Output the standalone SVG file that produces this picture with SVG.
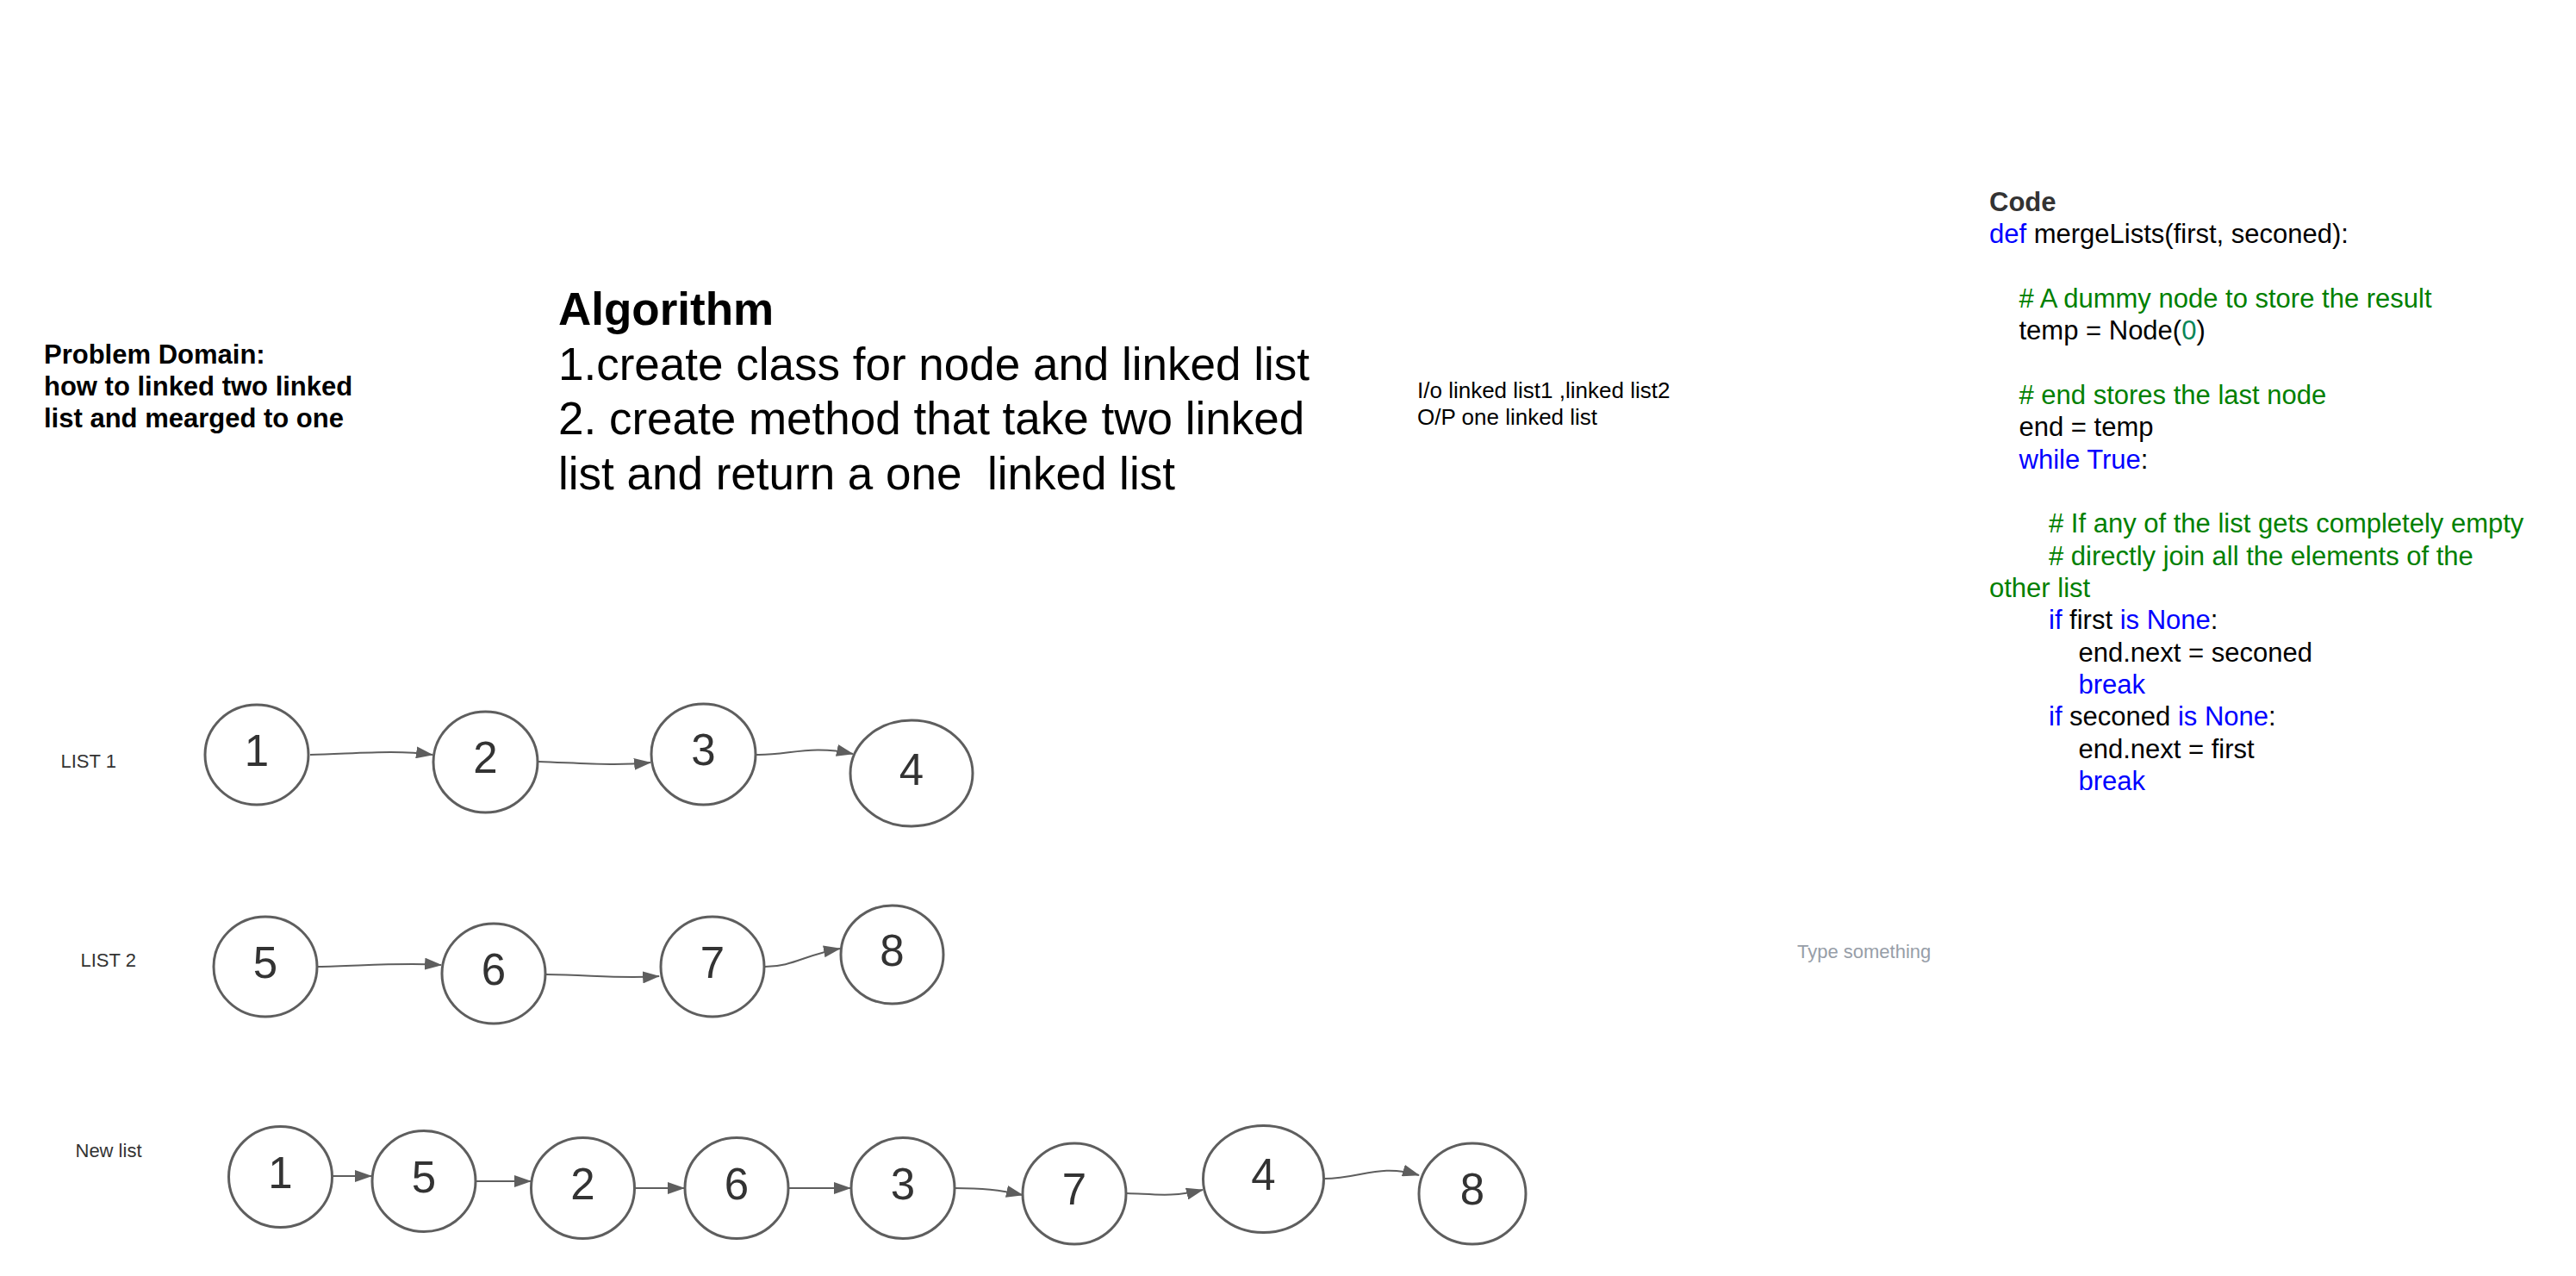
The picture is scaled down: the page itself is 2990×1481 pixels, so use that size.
<svg xmlns="http://www.w3.org/2000/svg" width="2990" height="1481" viewBox="0 0 2990 1481">
<style>
text{font-family:"Liberation Sans",Arial,sans-serif;}
.node ellipse{fill:#fff;stroke:#5e5e5e;stroke-width:3;}
.node text{font-size:51px;fill:#333;text-anchor:middle;}
.edge{fill:none;stroke:#5e5e5e;stroke-width:2;marker-end:url(#arr);}
.lbl{font-size:22px;fill:#333;}
.code{font-size:31px;fill:#000;}
.kw{fill:#0000ff;}
.cm{fill:#008000;}
.num{fill:#098658;}
</style>
<defs>
<marker id="arr" viewBox="0 0 20 14" refX="19" refY="7" markerWidth="20" markerHeight="14" orient="auto" markerUnits="userSpaceOnUse"><path d="M0,0 L20,7 L0,14 z" fill="#5e5e5e"/></marker>
</defs>
<rect width="2990" height="1481" fill="#fff"/>

<g id="problem-domain">
<text x="51" y="422" font-size="31" font-weight="bold">Problem Domain:</text>
<text x="51" y="459" font-size="31" font-weight="bold">how to linked two linked</text>
<text x="51" y="496" font-size="31" font-weight="bold">list and mearged to one</text>
</g>

<g id="algorithm">
<text x="648" y="377" font-size="53" font-weight="bold">Algorithm</text>
<text x="648" y="440.5" font-size="53">1.create class for node and linked list</text>
<text x="648" y="504" font-size="53">2. create method that take two linked</text>
<text x="648" y="567.5" font-size="53" xml:space="preserve">list and return a one  linked list</text>
</g>

<g id="io">
<text x="1645" y="462" font-size="26">I/o linked list1 ,linked list2</text>
<text x="1645" y="493" font-size="26">O/P one linked list</text>
</g>

<g id="code" class="code">
<text x="2309" y="245" font-weight="bold" fill="#333">Code</text>
<text x="2309" y="282"><tspan class="kw">def</tspan> mergeLists(first, seconed):</text>
<text x="2343.5" y="356.7" class="cm"># A dummy node to store the result</text>
<text x="2343.5" y="394">temp = Node(<tspan class="num">0</tspan>)</text>
<text x="2343.5" y="468.7" class="cm"># end stores the last node</text>
<text x="2343.5" y="506">end = temp</text>
<text x="2343.5" y="543.5"><tspan class="kw">while True</tspan>:</text>
<text x="2378" y="618.2" class="cm"># If any of the list gets completely empty</text>
<text x="2378" y="655.5" class="cm"># directly join all the elements of the</text>
<text x="2309" y="692.9" class="cm">other list</text>
<text x="2378" y="730.2"><tspan class="kw">if</tspan> first <tspan class="kw">is None</tspan>:</text>
<text x="2412.5" y="767.6">end.next = seconed</text>
<text x="2412.5" y="804.9" class="kw">break</text>
<text x="2378" y="842.3"><tspan class="kw">if</tspan> seconed <tspan class="kw">is None</tspan>:</text>
<text x="2412.5" y="879.6">end.next = first</text>
<text x="2412.5" y="917" class="kw">break</text>
</g>

<g id="type-something">
<text x="2086" y="1112" font-size="22" fill="#979ea8">Type something</text>
</g>

<g id="labels">
<text id="label-list1" class="lbl" x="70.5" y="891">LIST 1</text>
<text id="label-list2" class="lbl" x="93.5" y="1121.5">LIST 2</text>
<text id="label-newlist" class="lbl" x="87.5" y="1343">New list</text>
</g>

<g id="connectors">
<path class="edge" d="M360,876 C410,875 460,870 502,876"/>
<path class="edge" d="M625,884 C680,886 715,889 755,885"/>
<path class="edge" d="M878,876 C915,877 940,864 990,875"/>
<path class="edge" d="M369,1122 C420,1121 470,1117 512,1120"/>
<path class="edge" d="M634,1131 C690,1132 725,1136 765,1133"/>
<path class="edge" d="M888,1122 C920,1122 935,1108 975,1101"/>
<path class="edge" d="M386,1365 L431,1365"/>
<path class="edge" d="M553,1371 L616,1371"/>
<path class="edge" d="M737,1379 L794,1379"/>
<path class="edge" d="M915,1379 L987,1379"/>
<path class="edge" d="M1108,1379 C1140,1379 1160,1381 1187,1387"/>
<path class="edge" d="M1308,1385 C1340,1386 1360,1390 1396,1381"/>
<path class="edge" d="M1537,1368 C1580,1368 1600,1350 1647,1364"/>
</g>

<g id="l1-n1" class="node"><ellipse cx="298" cy="876" rx="60" ry="58"/><text x="298" y="888.5">1</text></g>
<g id="l1-n2" class="node"><ellipse cx="563.5" cy="884.5" rx="60.5" ry="58.5"/><text x="563.5" y="897">2</text></g>
<g id="l1-n3" class="node"><ellipse cx="816.5" cy="875.5" rx="60.5" ry="58.5"/><text x="816.5" y="888">3</text></g>
<g id="l1-n4" class="node"><ellipse cx="1058" cy="897.5" rx="71" ry="61.5"/><text x="1058" y="910.5">4</text></g>

<g id="l2-n5" class="node"><ellipse cx="308" cy="1122" rx="60" ry="58"/><text x="308" y="1134.5">5</text></g>
<g id="l2-n6" class="node"><ellipse cx="573" cy="1130" rx="60" ry="58"/><text x="573" y="1142.5">6</text></g>
<g id="l2-n7" class="node"><ellipse cx="827" cy="1122" rx="60" ry="58"/><text x="827" y="1134.5">7</text></g>
<g id="l2-n8" class="node"><ellipse cx="1035.5" cy="1108" rx="59.5" ry="57"/><text x="1035.5" y="1120.5">8</text></g>

<g id="nl-n1" class="node"><ellipse cx="325.5" cy="1366" rx="60" ry="58.5"/><text x="325.5" y="1378.5">1</text></g>
<g id="nl-n5" class="node"><ellipse cx="492" cy="1371" rx="60" ry="58.5"/><text x="492" y="1383.5">5</text></g>
<g id="nl-n2" class="node"><ellipse cx="676.5" cy="1379" rx="60" ry="58.5"/><text x="676.5" y="1391.5">2</text></g>
<g id="nl-n6" class="node"><ellipse cx="855" cy="1379" rx="60" ry="58.5"/><text x="855" y="1391.5">6</text></g>
<g id="nl-n3" class="node"><ellipse cx="1048" cy="1379" rx="60" ry="58.5"/><text x="1048" y="1391.5">3</text></g>
<g id="nl-n7" class="node"><ellipse cx="1247" cy="1385.5" rx="60" ry="58.5"/><text x="1247" y="1398">7</text></g>
<g id="nl-n4" class="node"><ellipse cx="1466.5" cy="1368.5" rx="70" ry="62"/><text x="1466.5" y="1381">4</text></g>
<g id="nl-n8" class="node"><ellipse cx="1709" cy="1385.5" rx="62" ry="58.5"/><text x="1709" y="1398">8</text></g>
</svg>
